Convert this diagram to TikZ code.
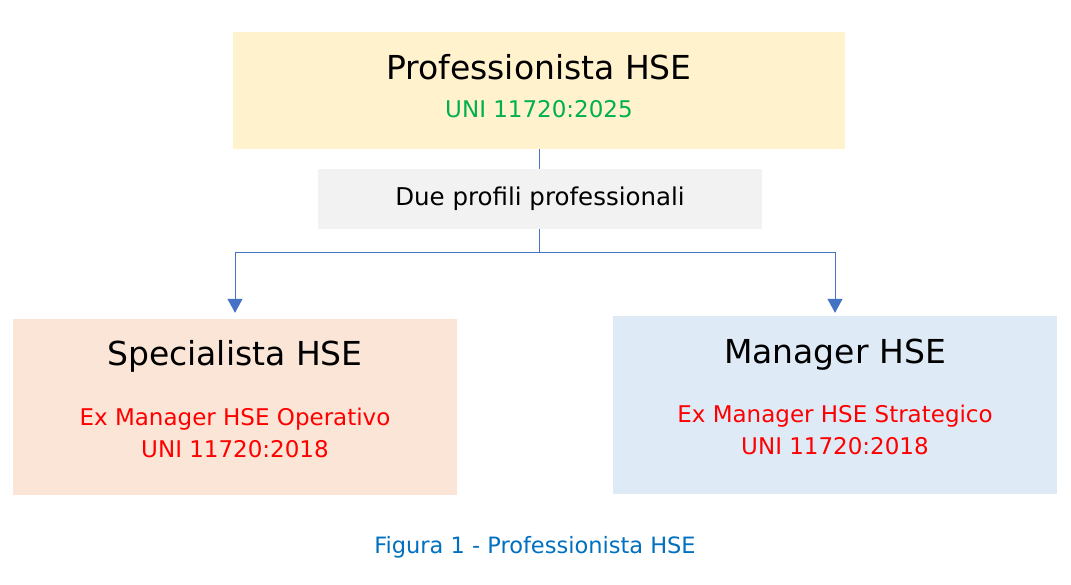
\documentclass[tikz,border=0pt]{standalone}
\usepackage{fontspec}
\setmainfont{DejaVu Sans}
\usetikzlibrary{arrows.meta}

\definecolor{profyellow}{HTML}{FFF2CC}
\definecolor{profgrey}{HTML}{F2F2F2}
\definecolor{specpeach}{HTML}{FBE5D6}
\definecolor{manblue}{HTML}{DEEBF7}
\definecolor{linkblue}{HTML}{4472C4}
\definecolor{normgreen}{HTML}{00B050}
\definecolor{exred}{HTML}{FF0000}
\definecolor{capblue}{HTML}{0070C0}

\tikzset{
    box/.style={rectangle,inner sep=0pt,draw=none},
    boxtitle/.style={anchor=base,inner sep=0pt,font=\fontsize{33}{40}\selectfont},
    boxnote/.style={anchor=base,inner sep=0pt,font=\fontsize{23}{28}\selectfont},
    link/.style={draw=linkblue,line width=1pt},
    linkarrow/.style={link,-{Triangle[length=14pt,width=15pt]}}
}

\begin{document}
\begin{tikzpicture}[x=1pt,y=-1pt]

    % white background, fixes the margins
    \useasboundingbox [fill=white] (0,0) rectangle (1071,584);

    % boxes
    \node[box,fill=profyellow,minimum width=612pt,minimum height=117pt] (prof) at (539,90.5) {};
    \node[box,fill=profgrey,minimum width=444pt,minimum height=60pt] (profili) at (540,199) {};
    \node[box,fill=specpeach,minimum width=444pt,minimum height=176pt] (spec) at (235,407) {};
    \node[box,fill=manblue,minimum width=444pt,minimum height=178pt] (man) at (835,405) {};

    % texts
    \node[boxtitle] (proft) at (539,79) {Professionista HSE};
    \node[boxnote,text=normgreen] (profnorm) at (539,117) {UNI 11720:2025};
    \node[boxnote,font=\fontsize{24.5}{28}\selectfont] (profilit) at (540,205) {Due profili professionali};

    \node[boxtitle] (spect) at (235,365) {Specialista HSE};
    \node[boxnote,text=exred] (specex) at (235,425) {Ex Manager HSE Operativo};
    \node[boxnote,text=exred] (specnorm) at (235,457) {UNI 11720:2018};

    \node[boxtitle] (mant) at (835,363) {Manager HSE};
    \node[boxnote,text=exred] (manex) at (835,422) {Ex Manager HSE Strategico};
    \node[boxnote,text=exred] (mannorm) at (835,454) {UNI 11720:2018};

    % connectors
    \coordinate (split) at (539,252);
    \draw[link] (prof.south) -- (prof.south |- profili.north);
    \draw[link] (split |- profili.south) -- (split);
    \draw[linkarrow,shorten >=6pt] (split) -| (spec.north);
    \draw[linkarrow,shorten >=3pt] (split) -| (man.north);

    % caption
    \node[boxnote,text=capblue,font=\fontsize{22.5}{28}\selectfont] (caption) at (535,553) {Figura 1 - Professionista HSE};

\end{tikzpicture}
\end{document}
